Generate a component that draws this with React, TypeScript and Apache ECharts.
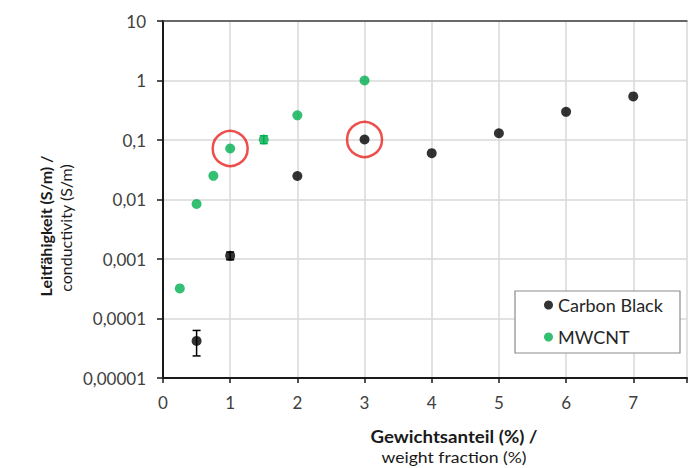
import React, { useEffect, useRef } from "react";
import * as echarts from "echarts";

const cbX = [0.5, 1, 2, 3, 4, 5, 6, 7];
const cbY = [0.000042, 0.00113, 0.0248, 0.102, 0.06, 0.13, 0.297, 0.54];
const cntX = [0.25, 0.5, 0.75, 1, 1.5, 2, 3];
const cntY = [0.00032, 0.0084, 0.025, 0.072, 0.102, 0.26, 1.0];
const cbErr = [
  [0.5, 0.0000235, 0.000063],
  [1, 0.00097, 0.00131],
];
const cntErr = [[1.5, 0.087, 0.118]];
const yTickLabels = ["0,00001", "0,0001", "0,001", "0,01", "0,1", "1", "10"];
const xTickLabels = ["0", "1", "2", "3", "4", "5", "6", "7"];
const seriesNames = ["Carbon Black", "MWCNT"];
const xTitle = ["Gewichtsanteil (%) /", "weight fraction (%)"];
const yTitle = ["Leitfähigkeit (S/m) /", "conductivity (S/m)"];

const FONT = "Lato";

function errRender(color: string) {
  return (params: any, api: any) => {
    const x = api.value(0);
    const lo = api.value(1);
    const hi = api.value(2);
    const p1 = api.coord([x, lo]);
    const p2 = api.coord([x, hi]);
    const w = 4;
    const st = { stroke: color, lineWidth: 1.5 };
    return {
      type: "group",
      children: [
        { type: "line", shape: { x1: p1[0], y1: p1[1], x2: p2[0], y2: p2[1] }, style: st },
        { type: "line", shape: { x1: p1[0] - w, y1: p1[1], x2: p1[0] + w, y2: p1[1] }, style: st },
        { type: "line", shape: { x1: p2[0] - w, y1: p2[1], x2: p2[0] + w, y2: p2[1] }, style: st },
      ],
    };
  };
}

export default function App() {
  const ref = useRef<HTMLDivElement>(null);
  useEffect(() => {
    if (!ref.current) return;
    const chart = echarts.init(ref.current, null, { renderer: "svg" });
    const highlight = [
      [cntX[3], cntY[3]],
      [cbX[3], cbY[3]],
    ];
    const option: any = {
      animation: false,
      backgroundColor: "#fff",
      grid: { left: 163, top: 21, right: 0, bottom: 90, containLabel: false },
      xAxis: [
        {
          type: "value",
          min: 0,
          max: 7.8,
          interval: 1,
          axisLine: { show: true, lineStyle: { color: "#1a1a1a", width: 2 } },
          axisTick: { show: true, length: 5, lineStyle: { color: "#1a1a1a", width: 1.5 } },
          axisLabel: {
            margin: 16,
            fontFamily: FONT,
            fontSize: 17,
            color: "#404040",
            formatter: (v: number) => (Number.isInteger(v) ? xTickLabels[v] ?? "" : ""),
          },
          splitLine: { show: true, lineStyle: { color: "#d9d9d9", width: 1.5 } },
        },
        {
          type: "value",
          position: "top",
          min: 0,
          max: 7.8,
          axisLine: { show: true, onZero: false, lineStyle: { color: "#404040", width: 1.5 } },
          axisTick: { show: false },
          axisLabel: { show: false },
          splitLine: { show: false },
        },
      ],
      yAxis: {
        type: "log",
        logBase: 10,
        min: 0.00001,
        max: 10,
        splitNumber: 6,
        axisLine: { show: true, lineStyle: { color: "#1a1a1a", width: 2 } },
        axisTick: { show: true, length: 6, lineStyle: { color: "#1a1a1a", width: 1.5 } },
        axisLabel: {
          margin: 17,
          fontFamily: FONT,
          fontSize: 17,
          color: "#404040",
          formatter: (v: number) => {
            const i = Math.round(Math.log10(v)) + 5;
            return yTickLabels[i] ?? "";
          },
        },
        splitLine: { show: true, lineStyle: { color: "#d9d9d9", width: 1.5 } },
      },
      legend: {
        data: seriesNames,
        orient: "vertical",
        left: 539,
        top: 290,
        itemWidth: 9,
        itemHeight: 9,
        itemGap: 12,
        icon: "circle",
        textStyle: { fontFamily: FONT, fontSize: 18, color: "#262626", lineHeight: 20 },
        z: 10,
      },
      graphic: [
        {
          type: "rect",
          z: 5,
          shape: { x: 515, y: 291, width: 165, height: 62 },
          style: { fill: "#fff", stroke: "#8c8c8c", lineWidth: 1.2 },
        },
        {
          type: "text",
          x: 454,
          y: 436,
          scaleX: 1.1,
          style: {
            text: xTitle[0],
            font: `bold 17px ${FONT}`,
            fill: "#1a1a1a",
            textAlign: "center",
            textVerticalAlign: "middle",
          },
        },
        {
          type: "text",
          x: 454,
          y: 457,
          scaleX: 1.1,
          style: {
            text: xTitle[1],
            font: `16px ${FONT}`,
            fill: "#1a1a1a",
            textAlign: "center",
            textVerticalAlign: "middle",
          },
        },
        {
          type: "text",
          x: 45,
          y: 226,
          rotation: Math.PI / 2,
          style: {
            text: yTitle[0],
            font: `bold 16px ${FONT}`,
            fill: "#1a1a1a",
            textAlign: "center",
            textVerticalAlign: "middle",
          },
        },
        {
          type: "text",
          x: 65,
          y: 228,
          rotation: Math.PI / 2,
          style: {
            text: yTitle[1],
            font: `16px ${FONT}`,
            fill: "#1a1a1a",
            textAlign: "center",
            textVerticalAlign: "middle",
          },
        },
      ],
      series: [
        {
          name: seriesNames[0],
          type: "scatter",
          symbol: "circle",
          symbolSize: 10,
          itemStyle: { color: "#000000" },
          data: cbX.map((x, i) => [x, cbY[i]]),
          z: 3,
        },
        {
          name: seriesNames[1],
          type: "scatter",
          symbol: "circle",
          symbolSize: 10,
          itemStyle: { color: "#00b050" },
          data: cntX.map((x, i) => [x, cntY[i]]),
          z: 3,
        },
        {
          name: "cbErr",
          type: "custom",
          renderItem: errRender("#000000"),
          data: cbErr,
          encode: { x: 0, y: [1, 2] },
          z: 4,
        },
        {
          name: "cntErr",
          type: "custom",
          renderItem: errRender("#00b050"),
          data: cntErr,
          encode: { x: 0, y: [1, 2] },
          z: 4,
        },
        {
          name: "highlight",
          type: "scatter",
          symbol: "circle",
          symbolSize: 35,
          itemStyle: { color: "rgba(0,0,0,0)", borderColor: "#e8231f", borderWidth: 2.5 },
          data: highlight,
          z: 5,
        },
      ],
    };
    chart.setOption(option);
    return () => chart.dispose();
  }, []);
  return (
    <div
      ref={ref}
      style={{ position: "fixed", left: 0, top: 0, width: 690, height: 468 }}
    />
  );
}
